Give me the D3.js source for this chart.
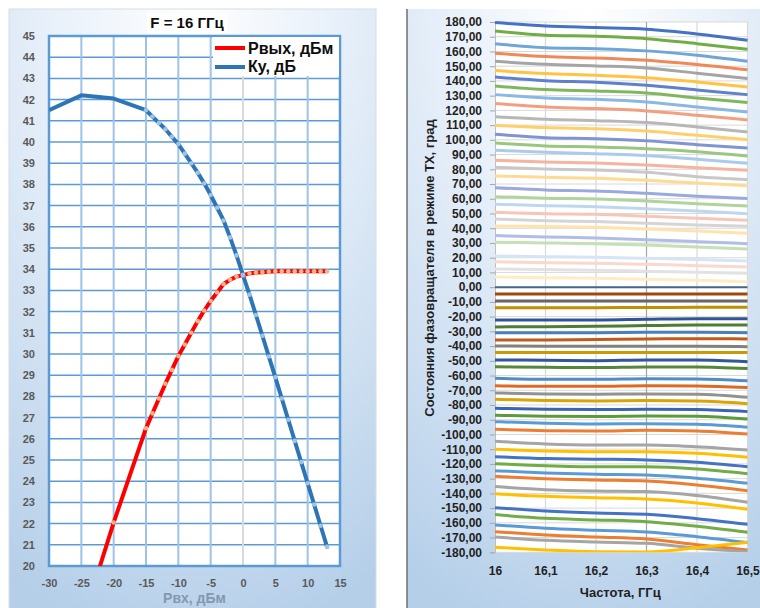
<!DOCTYPE html>
<html>
<head>
<meta charset="utf-8">
<script src="https://cdn.jsdelivr.net/npm/d3@7"></script>
<style>
  html, body { margin: 0; padding: 0; background: #fff; }
  svg { display: block; font-family: "Liberation Sans", Arial, sans-serif; }
</style>
</head>
<body>
<div id="chart"></div>
<script>
// left chart: F = 16 GHz, output power and gain vs input power
var pinValues = [-30, -25, -20, -15, -14, -13, -12, -11, -10, -9, -8, -7, -6, -5, -4, -3, -2, -1,
    0, 1, 2, 3, 4, 5, 6, 7, 8, 9, 10, 11, 12, 13];
var poutValues = [11.5, 17.2, 22.05, 26.5, 27.2, 27.9, 28.6, 29.25, 29.9, 30.45, 31.0, 31.55, 32.05, 32.5,
    32.9, 33.3, 33.5, 33.65, 33.72, 33.8, 33.84, 33.86, 33.88, 33.9, 33.9, 33.9, 33.9, 33.9, 33.9, 33.9, 33.9, 33.9];
var gainValues = [41.5, 42.2, 42.05, 41.5, 41.2, 40.9, 40.6, 40.25, 39.9, 39.45, 39.0, 38.55, 38.05, 37.5,
    36.9, 36.3, 35.5, 34.65, 33.72, 32.8, 31.84, 30.86, 29.88, 28.9, 27.9, 26.9, 25.9, 24.9, 23.9, 22.9, 21.9, 20.9];
var poutMarkerPins = [-20, -15, -14, -13, -12, -11, -10, -9, -8, -7, -6, -5, -4, -3, -2, -1,
    0, 1, 2, 3, 4, 5, 6, 7, 8, 9, 10, 11, 12, 13];
var gainMarkerPins = [-15, -14, -13, -12, -11, -10, -9, -8, -7, -6, -5, -4, -3, -2, -1,
    0, 1, 2, 3, 4, 5, 6, 7, 8, 9, 10, 11, 12, 13];
var pinTicks = [-30, -25, -20, -15, -10, -5, 0, 5, 10, 15];
var levelTicks = d3.range(20, 46);
var legendLabels = ["Рвых, дБм", "Ку, дБ"];

// right chart: phase shifter states vs frequency
var freqValues = [16, 16.1, 16.2, 16.3, 16.4, 16.5];
var freqTicks = [16, 16.1, 16.2, 16.3, 16.4, 16.5];
var phaseTicks = d3.range(-180, 181, 10);
var phaseStates = [
    [179.6, 177.3, 176.2, 175.1, 171.9, 167.6],
    [173.9, 171.0, 170.3, 168.7, 165.3, 161.5],
    [165.3, 162.6, 161.9, 160.4, 157.4, 153.3],
    [158.8, 156.5, 155.6, 154.0, 151.1, 147.5],
    [153.3, 151.3, 150.2, 148.8, 145.2, 141.6],
    [147.0, 145.0, 143.8, 142.2, 139.3, 135.9],
    [142.7, 140.2, 139.1, 137.1, 133.9, 130.7],
    [136.6, 134.1, 133.2, 131.8, 128.4, 125.3],
    [130.7, 128.4, 127.5, 125.7, 122.3, 118.9],
    [124.6, 122.3, 121.2, 119.6, 116.7, 113.5],
    [115.7, 114.0, 113.0, 111.7, 108.8, 105.4],
    [109.9, 108.3, 107.6, 106.0, 103.1, 100.1],
    [103.8, 101.5, 100.8, 99.3, 96.7, 94.4],
    [97.9, 95.9, 95.2, 94.0, 92.0, 89.1],
    [92.9, 91.6, 90.6, 89.3, 86.8, 84.1],
    [86.1, 85.0, 84.3, 83.0, 81.1, 79.4],
    [81.4, 80.2, 79.6, 78.0, 75.0, 73.0],
    [75.5, 74.6, 73.9, 72.6, 70.7, 68.9],
    [67.5, 66.0, 65.3, 63.7, 61.7, 60.1],
    [61.4, 60.4, 59.9, 58.5, 56.7, 55.1],
    [56.3, 55.3, 54.6, 53.3, 51.7, 49.9],
    [50.8, 49.9, 49.5, 48.1, 46.8, 45.4],
    [46.3, 45.1, 44.5, 43.4, 42.2, 41.3],
    [41.5, 41.1, 40.7, 39.5, 38.2, 36.6],
    [35.0, 34.1, 33.4, 32.2, 30.9, 29.5],
    [30.5, 30.0, 29.5, 28.6, 27.3, 25.9],
    [21.2, 20.7, 20.3, 19.6, 18.7, 17.8],
    [17.3, 16.6, 16.2, 15.5, 14.6, 13.7],
    [12.4, 11.9, 11.5, 10.8, 10.1, 9.4],
    [6.9, 6.4, 6.0, 5.4, 4.7, 3.7],
    [0.0, 0.0, 0.0, 0.0, 0.0, 0.0],
    [-4.6, -4.6, -4.6, -4.6, -4.6, -4.6],
    [-9.4, -9.4, -9.4, -9.4, -9.4, -9.4],
    [-13.9, -13.9, -13.9, -13.8, -13.7, -13.7],
    [-22.3, -22.3, -22.3, -21.8, -21.4, -21.4],
    [-27.0, -26.8, -26.6, -26.1, -25.7, -25.7],
    [-30.9, -30.9, -30.9, -30.7, -30.7, -30.9],
    [-35.8, -35.8, -35.5, -35.2, -35.0, -35.2],
    [-39.9, -40.1, -40.1, -40.1, -40.1, -40.4],
    [-44.4, -44.4, -44.4, -44.4, -44.4, -44.4],
    [-49.4, -49.6, -49.9, -49.4, -49.4, -50.6],
    [-54.0, -54.4, -54.6, -54.2, -54.2, -55.3],
    [-61.9, -62.5, -62.5, -62.1, -62.3, -63.5],
    [-66.9, -67.3, -67.3, -66.9, -67.1, -68.2],
    [-71.8, -72.5, -72.7, -72.5, -72.7, -74.8],
    [-76.1, -77.0, -77.3, -77.0, -77.3, -79.1],
    [-82.2, -82.9, -83.1, -82.9, -83.1, -84.5],
    [-87.0, -87.6, -87.8, -87.4, -87.6, -89.5],
    [-91.3, -92.4, -92.9, -92.7, -93.1, -95.1],
    [-96.5, -97.4, -97.6, -97.2, -97.6, -99.7],
    [-104.6, -106.4, -107.1, -107.1, -108.3, -110.5],
    [-110.0, -111.2, -111.7, -111.7, -112.8, -115.5],
    [-115.1, -116.4, -116.8, -117.3, -118.9, -121.9],
    [-119.8, -121.2, -121.9, -121.9, -123.4, -126.6],
    [-124.6, -126.1, -127.0, -127.5, -129.7, -133.1],
    [-128.4, -130.0, -130.9, -131.6, -134.3, -138.2],
    [-135.4, -137.5, -138.4, -138.8, -141.5, -146.0],
    [-140.2, -142.0, -142.9, -143.8, -146.5, -150.8],
    [-149.7, -151.9, -153.3, -154.2, -157.2, -161.0],
    [-154.4, -156.9, -158.0, -159.2, -162.3, -166.4],
    [-161.4, -163.7, -165.0, -166.2, -169.4, -173.4],
    [-166.0, -168.2, -169.6, -170.9, -174.8, -178.4],
    [-169.6, -171.8, -173.0, -173.9, -177.3, -179.6],
    [-176.6, -178.4, -179.6, -179.8, -176.9, -173.2]
];
var phaseColors = [
    "#4472c4", "#70ad47", "#6fa6da", "#f08858", "#a5a5a5", "#ffc443",
    "#5f80cc", "#80b75e", "#8ab8e3", "#f29f80", "#b7b7b7", "#ffcf6a",
    "#8094d4", "#9bc67f", "#aacbec", "#f5b4a0", "#c8c8c8", "#ffda92",
    "#9ba9de", "#b0d49e", "#bed7f0", "#f8c6b6", "#d5d5d5", "#ffe2ad",
    "#b0bde6", "#c4e0b6", "#d5e5f6", "#fad8cc", "#e2e2e2", "#ffebc6",
    "#45678c",
    "#9e480e", "#676767", "#bf9000", "#2f5597", "#4e7d32", "#4a80b8",
    "#c35a17", "#808080", "#c99a06", "#30579c", "#55873a",
    "#4f8cc8", "#dc6a24", "#929292", "#daa405", "#3b64b4", "#5b9b3c",
    "#5b9bd5", "#ed7d31", "#a5a5a5", "#ffc000", "#4472c4", "#70ad47",
    "#5b9bd5", "#ed7d31", "#a5a5a5", "#ffc000", "#4472c4", "#70ad47",
    "#5b9bd5", "#ed7d31", "#a5a5a5", "#ffc000"
];

var locale = d3.formatLocale({ decimal: ",", thousands: " ", grouping: [3], currency: ["", ""], minus: "-" });

var svg = d3.select("#chart")
    .append("svg")
    .attr("width", 760)
    .attr("height", 608);

var defs = svg.append("defs");

var bg = defs.append("radialGradient")
    .attr("id", "panelBg")
    .attr("cx", "50%").attr("cy", "0%")
    .attr("r", "105%");
bg.append("stop").attr("offset", "0").attr("stop-color", "#ffffff");
bg.append("stop").attr("offset", "0.4").attr("stop-color", "#e6eff9");
bg.append("stop").attr("offset", "1").attr("stop-color", "#b5cfe9");

// ---------- left chart ----------
var left = {
    x0: 49, x1: 340, y0: 36, y1: 566
};

svg.append("rect")
    .attr("x", 9).attr("y", 9)
    .attr("width", 367).attr("height", 610)
    .attr("fill", "url(#panelBg)")
    .attr("stroke", "#d6dee8");

var xl = d3.scaleLinear().domain([-30, 15]).range([left.x0, left.x1]);
var yl = d3.scaleLinear().domain([20, 45]).range([left.y1, left.y0]);

defs.append("clipPath").attr("id", "clipLeft")
    .append("rect")
    .attr("x", left.x0).attr("y", left.y0)
    .attr("width", left.x1 - left.x0).attr("height", left.y1 - left.y0);

var gl = svg.append("g");

gl.append("rect")
    .attr("x", left.x0).attr("y", left.y0)
    .attr("width", left.x1 - left.x0).attr("height", left.y1 - left.y0)
    .attr("fill", "#fff");

gl.selectAll("line.hgrid")
    .data(levelTicks)
    .enter().append("line")
    .attr("class", "hgrid")
    .attr("x1", left.x0).attr("x2", left.x1)
    .attr("y1", function(d) { return yl(d); })
    .attr("y2", function(d) { return yl(d); })
    .attr("stroke", "#5b9bd5")
    .attr("stroke-width", 1.5);

gl.selectAll("line.vgrid")
    .data(pinTicks.slice(1, -1))
    .enter().append("line")
    .attr("class", "vgrid")
    .attr("x1", function(d) { return xl(d); })
    .attr("x2", function(d) { return xl(d); })
    .attr("y1", left.y0).attr("y2", left.y1)
    .attr("stroke", function(d) { return d === 0 ? "#d9d9d9" : "#9dc3e6"; })
    .attr("stroke-width", 2);

gl.append("rect")
    .attr("x", left.x0).attr("y", left.y0)
    .attr("width", left.x1 - left.x0).attr("height", left.y1 - left.y0)
    .attr("fill", "none")
    .attr("stroke", "#5b9bd5")
    .attr("stroke-width", 2.5);

var yAxisL = gl.append("g")
    .attr("transform", "translate(" + left.x0 + ",0)")
    .call(d3.axisLeft(yl).tickValues(levelTicks).tickSize(0).tickPadding(14).tickFormat(locale.format("d")));

var xAxisL = gl.append("g")
    .attr("transform", "translate(0," + left.y1 + ")")
    .call(d3.axisBottom(xl).tickValues(pinTicks).tickSize(0).tickPadding(13).tickFormat(locale.format("d")));

[yAxisL, xAxisL].forEach(function(a) {
    a.select(".domain").remove();
    a.selectAll("text")
        .attr("fill", "#595959")
        .style("font-size", "11px")
        .style("font-weight", "bold")
        .style("font-family", "'Liberation Sans', Arial, sans-serif");
});

var lineL = function(values) {
    return d3.line()
        .x(function(d, i) { return xl(pinValues[i]); })
        .y(function(d) { return yl(d); })(values);
};

var plotL = gl.append("g").attr("clip-path", "url(#clipLeft)");

plotL.append("path")
    .attr("d", lineL(poutValues))
    .attr("fill", "none")
    .attr("stroke", "#ff0000")
    .attr("stroke-width", 4)
    .attr("stroke-linejoin", "round");

plotL.append("path")
    .attr("d", lineL(gainValues))
    .attr("fill", "none")
    .attr("stroke", "#2e75b6")
    .attr("stroke-width", 4)
    .attr("stroke-linejoin", "round");

plotL.selectAll("circle.pout")
    .data(poutMarkerPins)
    .enter().append("circle")
    .attr("class", "pout")
    .attr("cx", function(d) { return xl(d); })
    .attr("cy", function(d) { return yl(poutValues[pinValues.indexOf(d)]); })
    .attr("r", 2.3)
    .attr("fill", "#f4b183");

plotL.selectAll("circle.gain")
    .data(gainMarkerPins)
    .enter().append("circle")
    .attr("class", "gain")
    .attr("cx", function(d) { return xl(d); })
    .attr("cy", function(d) { return yl(gainValues[pinValues.indexOf(d)]); })
    .attr("r", 2.3)
    .attr("fill", "#9dc3e6");

// title
gl.append("rect")
    .attr("x", 147).attr("y", 13)
    .attr("width", 80).attr("height", 20)
    .attr("fill", "#fff");

gl.append("text")
    .attr("x", 187).attr("y", 28)
    .attr("text-anchor", "middle")
    .style("font-size", "15px")
    .style("font-weight", "bold")
    .attr("fill", "#0d0d0d")
    .text("F = 16 ГГц");

// legend
var legend = gl.append("g");
legend.append("rect")
    .attr("x", 213).attr("y", 37)
    .attr("width", 126).attr("height", 39)
    .attr("fill", "#fff");

legend.selectAll("line")
    .data(legendLabels)
    .enter().append("line")
    .attr("x1", 215).attr("x2", 245)
    .attr("y1", function(d, i) { return 48 + i * 19; })
    .attr("y2", function(d, i) { return 48 + i * 19; })
    .attr("stroke", function(d, i) { return i === 0 ? "#ff0000" : "#2e75b6"; })
    .attr("stroke-width", 4);

legend.selectAll("text")
    .data(legendLabels)
    .enter().append("text")
    .attr("x", 248)
    .attr("y", function(d, i) { return 54 + i * 18; })
    .style("font-size", "16px")
    .style("font-weight", "bold")
    .attr("fill", "#0d0d0d")
    .text(function(d) { return d; });

gl.append("text")
    .attr("x", (left.x0 + left.x1) / 2)
    .attr("y", 603)
    .attr("text-anchor", "middle")
    .style("font-size", "14px")
    .style("font-weight", "bold")
    .attr("fill", "#8497b0")
    .text("Рвх, дБм");

// ---------- right chart ----------
var right = {
    x0: 495, x1: 747.5, y0: 22, y1: 552.3
};

svg.append("rect")
    .attr("x", 407).attr("y", 9)
    .attr("width", 360).attr("height", 610)
    .attr("fill", "url(#panelBg)");

svg.append("line")
    .attr("x1", 407).attr("x2", 407)
    .attr("y1", 9).attr("y2", 608)
    .attr("stroke", "#6f6f6f")
    .attr("stroke-width", 1.5);

var xr = d3.scaleLinear().domain([16, 16.5]).range([right.x0, right.x1]);
var yr = d3.scaleLinear().domain([-180, 180]).range([right.y1, right.y0]);

defs.append("clipPath").attr("id", "clipRight")
    .append("rect")
    .attr("x", right.x0 - 2).attr("y", right.y0 - 3)
    .attr("width", right.x1 - right.x0 + 4).attr("height", right.y1 - right.y0 + 3);

var gr = svg.append("g");

gr.append("rect")
    .attr("x", right.x0).attr("y", right.y0)
    .attr("width", right.x1 - right.x0).attr("height", right.y1 - right.y0)
    .attr("fill", "#fff");

gr.selectAll("line.hgrid")
    .data(phaseTicks)
    .enter().append("line")
    .attr("class", "hgrid")
    .attr("x1", right.x0).attr("x2", right.x1)
    .attr("y1", function(d) { return yr(d); })
    .attr("y2", function(d) { return yr(d); })
    .attr("stroke", "#d9d9d9")
    .attr("stroke-width", 1);

gr.selectAll("line.vgrid")
    .data(freqTicks.slice(1))
    .enter().append("line")
    .attr("class", "vgrid")
    .attr("x1", function(d) { return xr(d); })
    .attr("x2", function(d) { return xr(d); })
    .attr("y1", right.y0).attr("y2", right.y1)
    .attr("stroke", function(d) { return d === 16.3 ? "#a6a6a6" : "#d9d9d9"; })
    .attr("stroke-width", 1.2);

var yAxisR = gr.append("g")
    .attr("transform", "translate(" + right.x0 + ",0)")
    .call(d3.axisLeft(yr).tickValues(phaseTicks).tickSize(5).tickPadding(8).tickFormat(locale.format(".2f")));

var xAxisR = gr.append("g")
    .attr("transform", "translate(0," + right.y1 + ")")
    .call(d3.axisBottom(xr).tickValues(freqTicks).tickSize(0).tickPadding(14).tickFormat(locale.format("~g")));

[yAxisR, xAxisR].forEach(function(a) {
    a.select(".domain").attr("stroke", "#bfbfbf");
    a.selectAll(".tick line").attr("stroke", "#a6a6a6");
    a.selectAll("text")
        .attr("fill", "#1f1f1f")
        .style("font-size", "12px")
        .style("font-weight", "bold")
        .style("font-family", "'Liberation Sans', Arial, sans-serif");
});
xAxisR.select(".domain").remove();

var lineR = d3.line()
    .x(function(d, i) { return xr(freqValues[i]); })
    .y(function(d) { return yr(d); })
    .curve(d3.curveMonotoneX);

gr.append("g")
    .attr("clip-path", "url(#clipRight)")
    .selectAll("path")
    .data(phaseStates)
    .enter().append("path")
    .attr("d", lineR)
    .attr("fill", "none")
    .attr("stroke", function(d, i) { return phaseColors[i]; })
    .attr("stroke-width", function(d, i) { return i === 30 ? 2 : 3; });

gr.append("text")
    .attr("x", (right.x0 + right.x1) / 2 - 1)
    .attr("y", 597)
    .attr("text-anchor", "middle")
    .style("font-size", "13px")
    .style("font-weight", "bold")
    .attr("fill", "#1f1f1f")
    .text("Частота, ГГц");

gr.append("text")
    .attr("transform", "translate(434," + 268 + ") rotate(-90)")
    .attr("text-anchor", "middle")
    .style("font-size", "13px")
    .style("font-weight", "bold")
    .attr("fill", "#1f1f1f")
    .text("Состояния фазовращателя в режиме TX, град");
</script>
</body>
</html>
